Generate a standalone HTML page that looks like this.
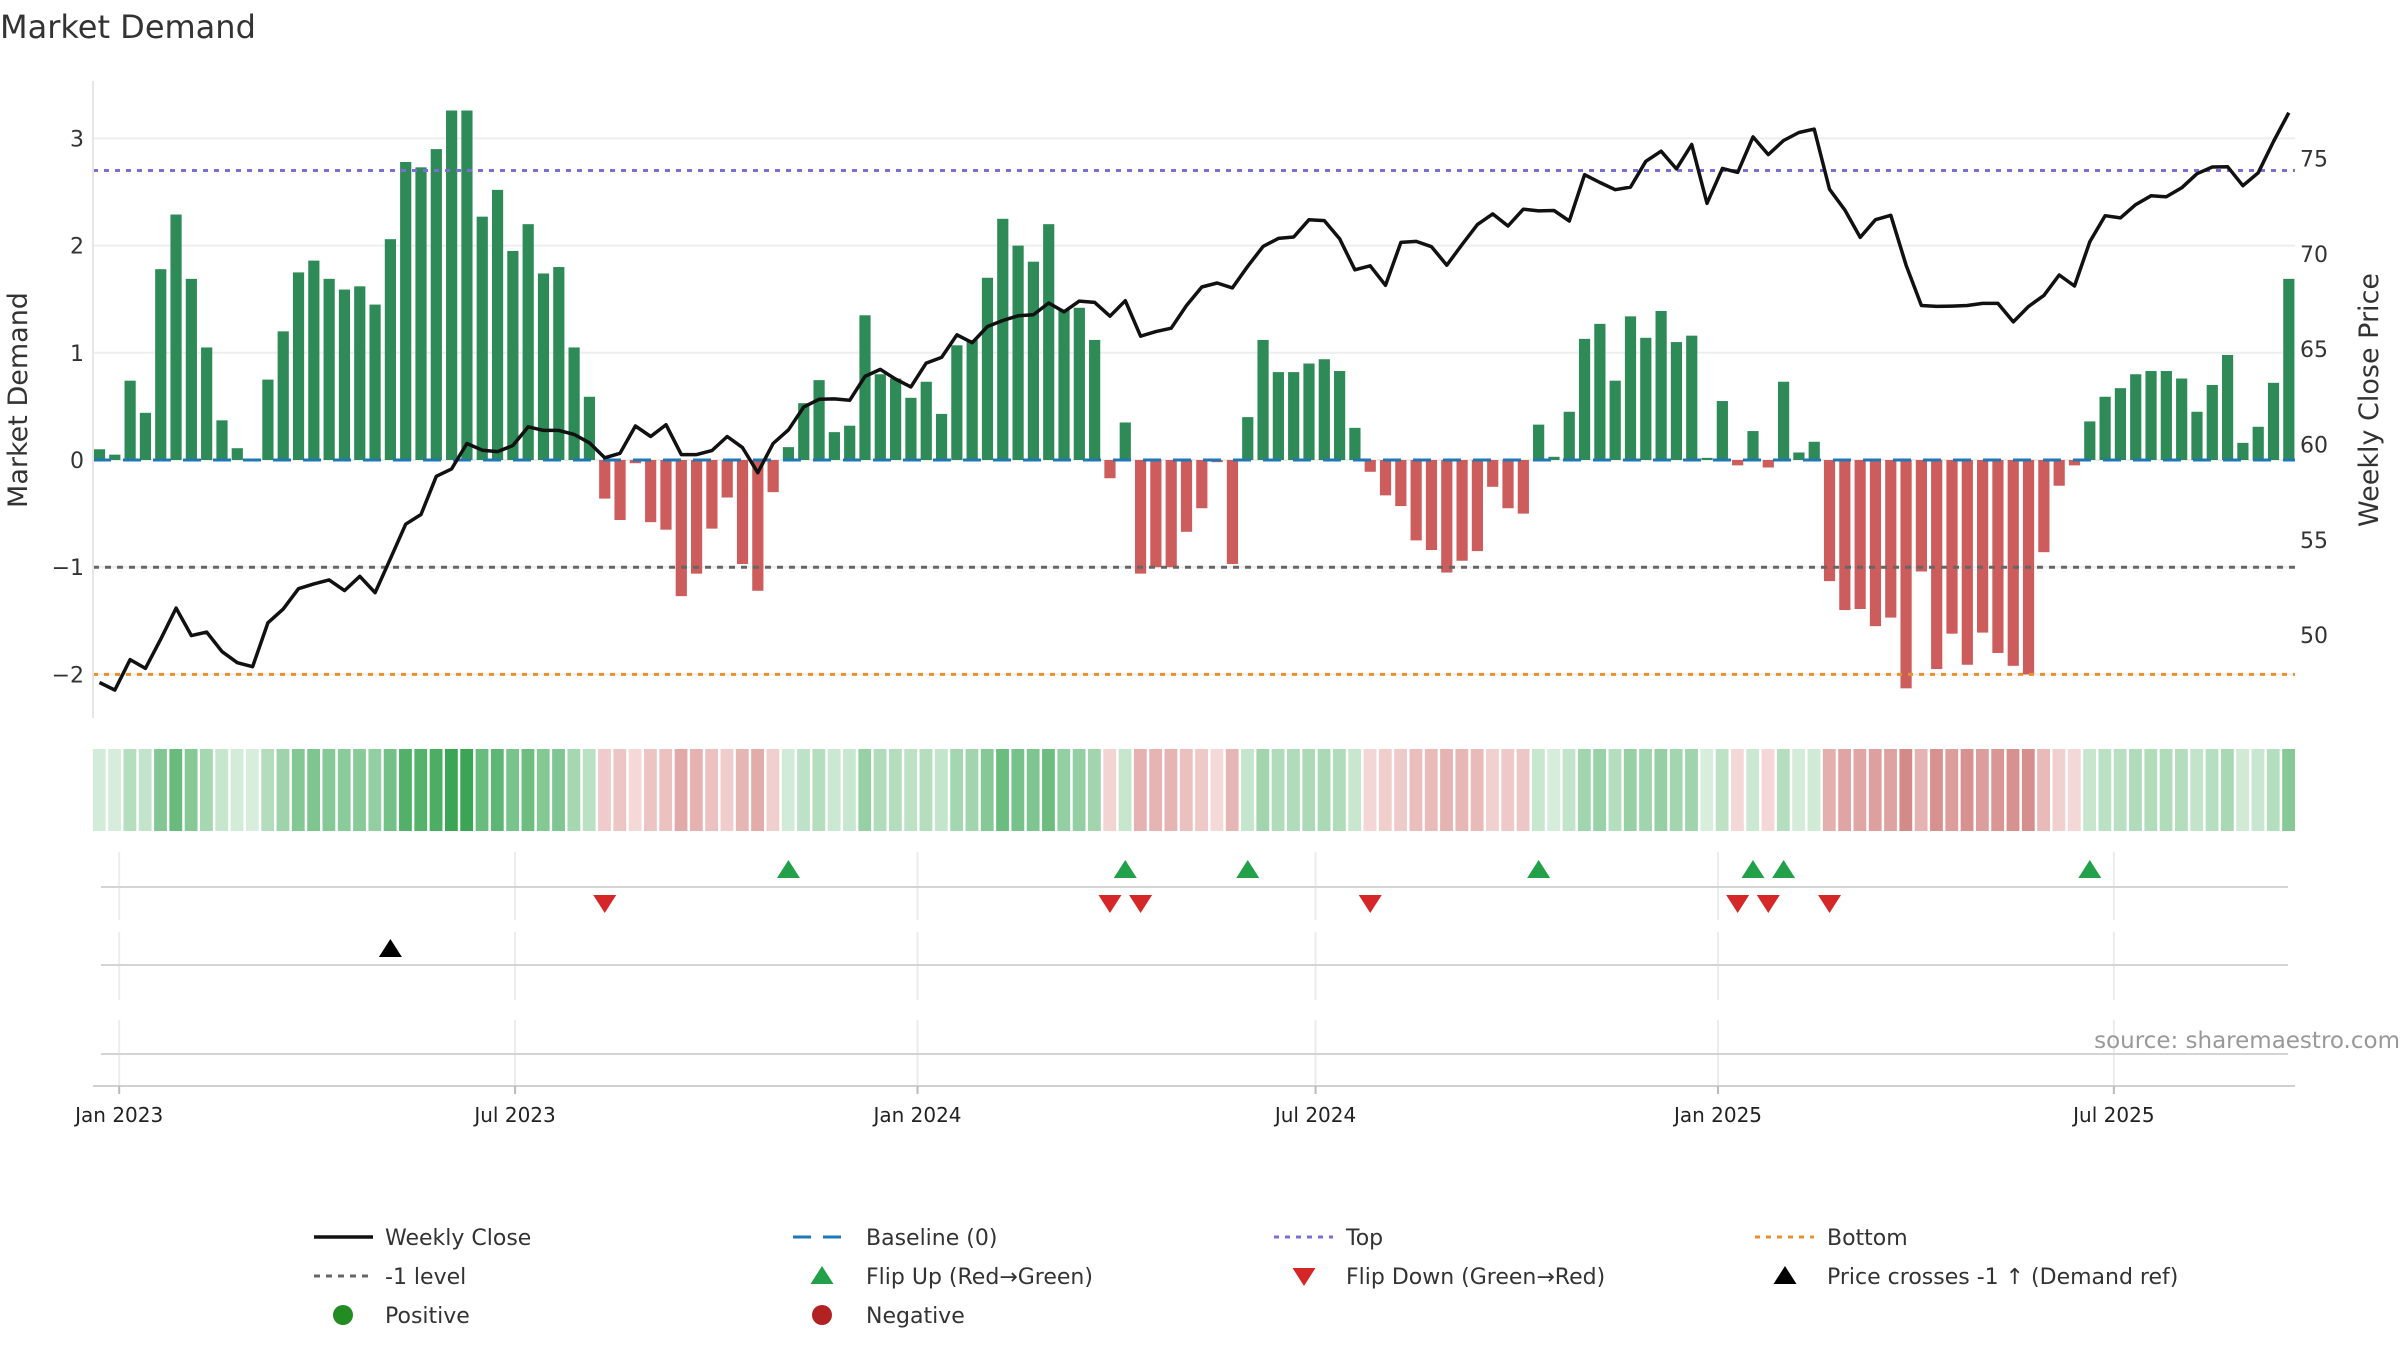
<!DOCTYPE html>
<html><head><meta charset="utf-8">
<style>
html,body{margin:0;padding:0;background:#fff;}
svg{display:block;font-family:"DejaVu Sans","Liberation Sans",sans-serif;}
</style></head>
<body>
<svg id="chart" width="2400" height="1350" viewBox="0 0 2400 1350" xmlns="http://www.w3.org/2000/svg">
<text x="0" y="38" font-size="32" fill="#333">Market Demand</text>
<g id="grid"></g>
<g id="bars"></g>
<g id="refs"></g>
<g id="price"></g>
<g id="axes"></g>
<g id="heat"></g>
<g id="events"></g>
<text x="2400" y="1048" font-size="23" fill="#999" text-anchor="end">source: sharemaestro.com</text>
<g id="legend"></g>
</svg>
<script>
const demand = [0.1,0.05,0.74,0.44,1.78,2.29,1.69,1.05,0.37,0.11,0.0,0.75,1.2,1.75,1.86,1.69,1.59,1.62,1.45,2.06,2.78,2.73,2.9,3.26,3.26,2.27,2.52,1.95,2.2,1.74,1.8,1.05,0.59,
-0.36,-0.56,-0.03,-0.58,-0.65,-1.27,-1.06,-0.64,-0.35,-0.97,-1.22,-0.3,
0.12,0.53,0.745,0.26,0.32,1.35,0.8,0.76,0.58,0.73,0.43,1.07,1.12,1.7,2.25,2.0,1.85,2.2,1.4,1.42,1.12,-0.17,0.35,-1.06,-1.0,-1.0,-0.67,-0.45,-0.02,-0.97,0.4,1.12,0.82,0.82,0.9,0.94,0.83,0.3,-0.11,-0.33,-0.43,-0.75,-0.84,-1.05,-0.94,-0.85,-0.25,-0.45,-0.5,0.33,0.03,0.45,1.13,1.27,0.74,
1.34,1.14,1.39,1.1,1.16,0.02,0.55,-0.05,0.27,-0.07,0.73,0.07,0.17,-1.13,-1.4,-1.39,-1.55,-1.47,-2.13,-1.04,-1.95,-1.62,-1.91,-1.61,-1.8,-1.92,-2.0,-0.86,-0.24,-0.05,0.36,0.59,0.67,0.8,0.83,0.83,0.76,0.45,0.7,0.98,0.16,0.31,0.72,1.69];
const closePrice = [47.52,47.12,48.72,48.26,49.79,51.42,49.98,50.16,49.14,48.56,48.35,50.65,51.37,52.44,52.69,52.9,52.34,53.09,52.23,54.01,55.82,56.33,58.33,58.72,60.05,59.7,59.63,59.95,60.93,60.74,60.74,60.53,60.09,59.3,59.54,60.97,60.42,61.04,59.47,59.47,59.68,60.42,59.84,58.52,60.05,60.77,61.97,
62.37,62.39,62.32,63.57,63.94,63.43,63.02,64.27,64.57,65.75,65.34,66.19,66.5,66.75,66.8,67.42,66.96,67.52,67.45,66.73,67.54,65.68,65.92,66.1,67.29,68.26,68.47,68.21,69.35,70.39,70.81,70.88,71.79,71.74,70.79,69.16,69.37,68.35,70.6,70.65,70.37,69.4,70.49,71.53,72.09,71.46,72.34,72.25,72.27,71.72,74.15,73.74,73.36,
73.5,74.85,75.38,74.45,75.73,72.65,74.48,74.27,76.13,75.2,75.94,76.36,76.54,73.39,72.3,70.86,71.79,72.02,69.4,67.29,67.24,67.26,67.29,67.4,67.4,66.43,67.24,67.82,68.89,68.31,70.63,72.0,71.88,72.58,73.04,72.99,73.46,74.2,74.55,74.57,73.57,74.25,75.89,77.4];
const leftTicks = [-2,-1,0,1,2,3];
const rightTicks = [50,55,60,65,70,75];
const xTickLabels = ["Jan 2023","Jul 2023","Jan 2024","Jul 2024","Jan 2025","Jul 2025"];
const xTickDates = ["2023-01-01","2023-07-01","2024-01-01","2024-07-01","2025-01-01","2025-07-01"];
const startDate = "2022-12-23";
const topLevel = 2.7, lowLevel = -1, bottomLevel = -2;

const NS="http://www.w3.org/2000/svg";
function mk(tag,attrs,parent){const e=document.createElementNS(NS,tag);for(const k in attrs)e.setAttribute(k,attrs[k]);if(parent)parent.appendChild(e);return e;}
const X0=99.5, STEP=15.31;
const xIdx = i => X0 + i*STEP;
const xDate = d => xIdx((new Date(d) - new Date(startDate))/864e5/7);
const yL = v => 460 - v*107.2;
const yR = p => 444.5 - (p-60)*19.07;
const PL=93, PR=2295, PT=81, PB=718;

const grid=document.getElementById('grid');
leftTicks.forEach(t=>{const l=mk('line',{x1:PL,x2:PR,y1:yL(t),y2:yL(t),stroke:'#eeeeee','stroke-width':2},grid);

});

const bars=document.getElementById('bars');
demand.forEach((v,i)=>{const y0=yL(0),y1=yL(v);const r=mk('rect',{x:xIdx(i)-5.6,width:11.2,y:Math.min(y0,y1),height:Math.max(Math.abs(y1-y0),0.5),fill:v>=0?'#2e8b57':'#cd5c5c'},bars);

});

const refs=document.getElementById('refs');
const r1=mk('line',{x1:PL,x2:PR,y1:yL(0),y2:yL(0),stroke:'#1f77b4','stroke-width':3,'stroke-dasharray':'18 12'},refs);


const r2=mk('line',{x1:PL,x2:PR,y1:yL(topLevel),y2:yL(topLevel),stroke:'#7b6fd6','stroke-width':3,'stroke-dasharray':'5 6'},refs);


const r3=mk('line',{x1:PL,x2:PR,y1:yL(lowLevel),y2:yL(lowLevel),stroke:'#666','stroke-width':3,'stroke-dasharray':'6 6'},refs);


const r4=mk('line',{x1:PL,x2:PR,y1:yL(bottomLevel),y2:yL(bottomLevel),stroke:'#e8902e','stroke-width':3,'stroke-dasharray':'5 6'},refs);



const pg=document.getElementById('price');
const pl=mk('polyline',{points:closePrice.map((p,i)=>xIdx(i).toFixed(1)+','+yR(p).toFixed(1)).join(' '),fill:'none',stroke:'#111','stroke-width':3.5,'stroke-linejoin':'round'},pg);



const ax=document.getElementById('axes');
const sp=mk('line',{x1:PL,x2:PL,y1:PT,y2:PB,stroke:'#e6e6e6','stroke-width':2},ax);


leftTicks.forEach(t=>{const tx=mk('text',{x:84,y:yL(t)+8,'font-size':22,fill:'#333','text-anchor':'end'},ax);tx.textContent=(t<0?'\u2212':'')+Math.abs(t);

});
rightTicks.forEach(t=>{const tx=mk('text',{x:2300,y:yR(t)+8,'font-size':22,fill:'#333'},ax);tx.textContent=t;

});
const yl=mk('text',{x:0,y:0,'font-size':27,fill:'#333','text-anchor':'middle',transform:'translate(27,400) rotate(-90)'},ax);yl.textContent='Market Demand';


const yr=mk('text',{x:0,y:0,'font-size':27,fill:'#333','text-anchor':'middle',transform:'translate(2378,400) rotate(-90)'},ax);yr.textContent='Weekly Close Price';



function mix(a,b,t){return 'rgb('+a.map((c,k)=>Math.round(c+(b[k]-c)*t)).join(',')+')';}
const heat=document.getElementById('heat');
demand.forEach((v,i)=>{let col;if(v>=0){col=mix([216,238,221],[58,166,85],Math.min(v/3.26,1));}else{col=mix([245,218,217],[212,138,136],Math.min(-v/2.13,1));}
const c=mk('rect',{x:xIdx(i)-STEP/2+1,width:STEP-2.5,y:749,height:82,fill:col},heat);

});

const ev=document.getElementById('events');
[[852,920],[932,1000],[1020,1086]].forEach(b=>{xTickDates.forEach(d=>{const l=mk('line',{x1:xDate(d),x2:xDate(d),y1:b[0],y2:b[1],stroke:'#ececf0','stroke-width':2},ev);

});});
[887,965,1054].forEach(y=>{const l=mk('line',{x1:101,x2:2288,y1:y,y2:y,stroke:'#d4d4d4','stroke-width':2},ev);

});
const xa=mk('line',{x1:PL,x2:PR,y1:1086,y2:1086,stroke:'#d0d0d0','stroke-width':2},ev);


xTickDates.forEach((d,k)=>{const x=xDate(d);const tk=mk('line',{x1:x,x2:x,y1:1086,y2:1094,stroke:'#bbb','stroke-width':2},ev);


const t=mk('text',{x:x,y:1122,'font-size':20,fill:'#222','text-anchor':'middle'},ev);t.textContent=xTickLabels[k];

});
function tri(x,y,up,col,name){const s=10;const pts=up?[[x,y-s],[x-s*1.15,y+s*0.8],[x+s*1.15,y+s*0.8]]:[[x,y+s],[x-s*1.15,y-s*0.8],[x+s*1.15,y-s*0.8]];
const p=mk('polygon',{points:pts.map(a=>a.join(',')).join(' '),fill:col},ev);

}
for(let i=1;i<demand.length;i++){
  if(demand[i-1]<0&&demand[i]>=0)tri(xIdx(i),870,true,'#22a04a','flip-up-marker');
  if(demand[i-1]>=0&&demand[i]<0)tri(xIdx(i),903,false,'#d62728','flip-down-marker');
}
const lvlPrice=60+(yR(60)-yL(lowLevel))/19.07;
for(let i=1;i<closePrice.length;i++){if(closePrice[i-1]<lvlPrice&&closePrice[i]>=lvlPrice)tri(xIdx(i),949,true,'#000','price-cross-marker');}

const lg=document.getElementById('legend');
const rows=[1237,1276,1315], cols=[314,793,1274,1755];
function ltext(x,y,s){const t=mk('text',{x:x,y:y+8,'font-size':22,fill:'#333'},lg);t.textContent=s;

}
function lline(c,r,stroke,dash,w){const l=mk('line',{x1:cols[c],x2:cols[c]+59,y1:rows[r],y2:rows[r],stroke:stroke,'stroke-width':w,'stroke-dasharray':dash},lg);

}
lline(0,0,'#111','',3.5); ltext(385,rows[0],'Weekly Close');
lline(1,0,'#1f77b4','18 12',3); ltext(866,rows[0],'Baseline (0)');
lline(2,0,'#7b6fd6','5 6',3); ltext(1346,rows[0],'Top');
lline(3,0,'#e8902e','5 6',3); ltext(1827,rows[0],'Bottom');
lline(0,1,'#666','6 6',3); ltext(385,rows[1],'-1 level');
function ltri(x,y,up,col){const s=10;const pts=up?[[x,y-s],[x-s*1.15,y+s*0.8],[x+s*1.15,y+s*0.8]]:[[x,y+s],[x-s*1.15,y-s*0.8],[x+s*1.15,y-s*0.8]];
const p=mk('polygon',{points:pts.map(a=>a.join(',')).join(' '),fill:col},lg);

}
ltri(822,rows[1],true,'#22a04a'); ltext(866,rows[1],'Flip Up (Red\u2192Green)');
ltri(1304,rows[1],false,'#d62728'); ltext(1346,rows[1],'Flip Down (Green\u2192Red)');
ltri(1785,rows[1],true,'#000'); ltext(1827,rows[1],'Price crosses -1 \u2191 (Demand ref)');
const c1=mk('circle',{cx:343,cy:rows[2],r:10,fill:'#228b22'},lg);


ltext(385,rows[2],'Positive');
const c2=mk('circle',{cx:822,cy:rows[2],r:10,fill:'#b22222'},lg);


ltext(866,rows[2],'Negative');
</script>
</body></html>
